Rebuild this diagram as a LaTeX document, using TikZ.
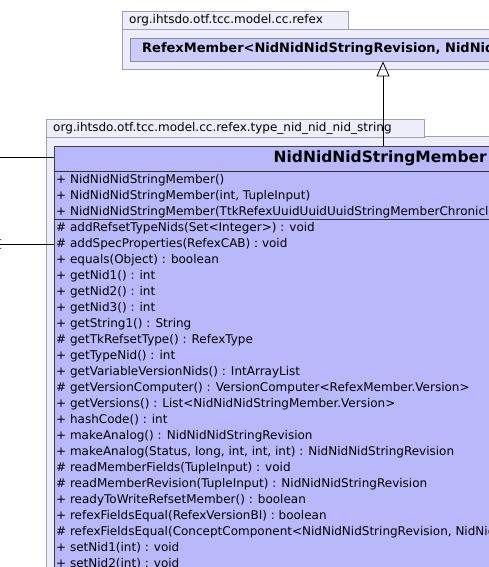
\documentclass[tikz,border=0pt]{standalone}
\usepackage{fontspec}
\setmainfont{DejaVu Sans}
\usetikzlibrary{arrows.meta,positioning}
\definecolor{pkgfill}{RGB}{238,238,250}
\definecolor{pkgline}{RGB}{160,160,180}
\definecolor{clsfill}{RGB}{184,184,250}
\definecolor{clsfaint}{RGB}{204,204,250}
\definecolor{clsedge}{RGB}{136,136,168}

\begin{document}
\begin{tikzpicture}[x=1pt,y=-1pt,font=\fontsize{12}{14}\selectfont,
  pkg/.style={draw=pkgline,fill=pkgfill},
  pkgtab/.style={draw=pkgline,fill=pkgfill,anchor=north west,inner xsep=7pt,inner ysep=0pt,minimum height=17.5pt,align=left},
  cls/.style={draw=black!75,fill=clsfill,anchor=north west,inner sep=0pt},
  row/.style={anchor=west,inner sep=0pt,text height=9pt,text depth=2.5pt},
  inherit/.style={-{Triangle[open,length=15pt,width=13pt]},fill=white,thick},
  dep/.style={-{Straight Barb[length=6pt,width=10pt]}}]
\useasboundingbox (0,0) rectangle (489,567);
\clip (0,0) rectangle (489,567);
% Package org.ihtsdo.otf.tcc.model.cc.refex
\draw[pkg] (122,29) rectangle (520,69);
\node[pkgtab,text width=212pt] (reftab) at (122,11.5) {org.ihtsdo.otf.tcc.model.cc.refex};
\node[cls,draw=clsedge,fill=clsfaint,minimum width=420pt,minimum height=23pt] (refex) at (130,38) {};
\node[row,font=\fontsize{13}{15}\selectfont\bfseries] (refexname) at (142,49.5) {RefexMember<NidNidNidStringRevision, NidNidNidStringMember.Version>};
% Package ...type_nid_nid_nid_string
\draw[pkg] (46,136) rectangle (520,600);
\node[pkgtab,text width=364pt] (typetab) at (46,119) {org.ihtsdo.otf.tcc.model.cc.refex.type\_nid\_nid\_nid\_string};
\node[cls,minimum width=500pt,minimum height=440pt] (member) at (54,145.5) {};
\node[anchor=east,inner sep=0pt,font=\fontsize{15.5}{18}\selectfont\bfseries] (membername) at (487,158) {NidNidNidStringMember};
\draw[black!80] (member.west |- 0,171) -- (member.east |- 0,171);
\draw[black!80] (member.west |- 0,219.5) -- (member.east |- 0,219.5);
% Constructors
\foreach \txt [count=\k from 0] in {%
  {+ NidNidNidStringMember()},
  {+ NidNidNidStringMember(int, TupleInput)},
  {+ NidNidNidStringMember(TtkRefexUuidUuidUuidStringMemberChronicle, int)}}
  \node[row] (c\k) at (56,{180+16*\k}) {\txt};
% Methods
\foreach \txt [count=\k from 0] in {%
  {\# addRefsetTypeNids(Set<Integer>) : void},
  {\# addSpecProperties(RefexCAB) : void},
  {+ equals(Object) : boolean},
  {+ getNid1() : int},
  {+ getNid2() : int},
  {+ getNid3() : int},
  {+ getString1() : String},
  {\# getTkRefsetType() : RefexType},
  {+ getTypeNid() : int},
  {+ getVariableVersionNids() : IntArrayList},
  {\# getVersionComputer() : VersionComputer<RefexMember.Version>},
  {+ getVersions() : List<NidNidNidStringMember.Version>},
  {+ hashCode() : int},
  {+ makeAnalog() : NidNidNidStringRevision},
  {+ makeAnalog(Status, long, int, int, int) : NidNidNidStringRevision},
  {\# readMemberFields(TupleInput) : void},
  {\# readMemberRevision(TupleInput) : NidNidNidStringRevision},
  {+ readyToWriteRefsetMember() : boolean},
  {+ refexFieldsEqual(RefexVersionBI) : boolean},
  {\# refexFieldsEqual(ConceptComponent<NidNidNidStringRevision, NidNidNidStringMember>) : boolean},
  {+ setNid1(int) : void},
  {+ setNid2(int) : void}}
  \node[row] (m\k) at (56,{228+16*\k}) {\txt};
% Connectors
\coordinate (gen) at (383,0);
\draw[inherit] (gen |- member.north) -- (gen |- refex.south);
\coordinate (in1) at (0,157);
\draw (in1) -- (in1 -| member.west);
\coordinate (out1) at (-5,244);
\draw[dep] (out1 -| member.west) -- (out1);
\end{tikzpicture}
\end{document}
